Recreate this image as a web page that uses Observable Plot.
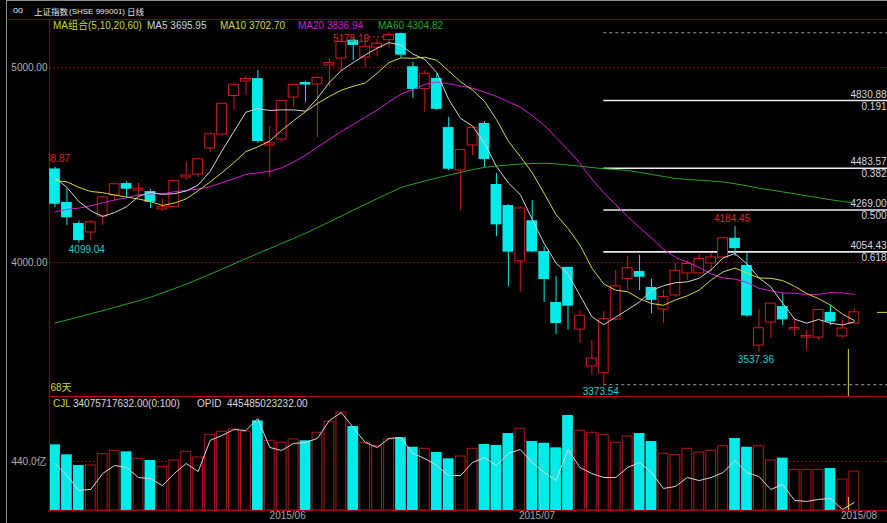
<!DOCTYPE html>
<html><head><meta charset="utf-8">
<script src="https://cdn.jsdelivr.net/npm/d3@7"></script>
<script src="https://cdn.jsdelivr.net/npm/@observablehq/plot@0.6"></script>
<style>
html,body{margin:0;padding:0;background:#000;overflow:hidden;}
#wrap{position:relative;width:887px;height:523px;background:#000;font-family:'Liberation Sans',Arial,'Noto Sans CJK SC',sans-serif;font-size:10px;}
.abs{position:absolute;white-space:pre;line-height:1;}
#price,#vol{position:absolute;left:0;}
#price{top:20px;} #vol{top:396px;}
.cjk{font-family:'Noto Sans CJK SC',sans-serif;}
</style></head><body>
<div id="wrap">
 <div id="price"></div><div id="vol"></div>
 <div class="abs" style="left:6px;top:0;width:1px;height:523px;background:#8c8c8c"></div>
 <div class="abs" style="left:6px;top:0;width:881px;height:1px;background:#8c8c8c"></div>
 <div class="abs" style="left:7px;top:19px;width:880px;height:1px;background:#7c0000"></div>
 <div id="hdr"></div>
</div>
<script>
// ---------- data ----------
const titleMain = "上证指数";
const titleCode = "(SHSE 999001)";
const titlePeriod = "日线";
const maGroupLabel = "MA组合(5,10,20,60)";
const maNames = ["MA5", "MA10", "MA20", "MA60"];
const maLast = ["3695.95", "3702.70", "3836.94", "4304.82"];
const volHeader = ["CJL", "34075717632.00(0:100)", "OPID", "445485023232.00"];
const daysLabel = ["68天"];

const openP = [4479.85,4308,4200,4154,4236,4344,4405,4369,4364,4272,4285,4436,4451,4585,4656,4854,4928,4943,4600,4631,4846,4923,4913,5010,5046,5140,5051,5102,5140,5174,5004,4890,4944,4692,4472,4600,4713,4400,4292,4006,4214,4056,3795,3975,3656,3467,3432,3707,3916,3954,3872,3759,3831,3944,3944,3995,4026,4124,3985,3574,3692,3774,3656,3615,3615,3744,3621,3687];
const highP = [4488.87,4379,4213,4215,4338,4404,4415,4405,4374,4323,4420,4515,4532,4664,4816,4914,4958,4986,4697,4830,4912,4930,4952,5046,5146,5147,5150,5143,5178.19,5176,5026,4985,4969,4744,4580,4692,4723,4456,4297,4287,4318,4080,3928,3975,3754,3600,3748,3959,4031,4036,3913,3856,3995,4010,4041,4046,4128,4184.45,4046,3759,3792,3841,3708,3651,3761,3779,3708,3764];
const lowP = [4282,4190,4099.04,4110,4190,4318,4333,4333,4277,4262,4280,4420,4436,4564,4650,4780,4856,4610,4436,4615,4795,4820,4641,4900,4980,5036,5000,5054,5097,5048,4841,4769,4780,4470,4264.77,4549,4487,4133,3875,3847,4050,3795,3631,3653,3585,3421.53,3373.54,3700,3856,3856,3738,3687,3821,3908,3944,3949,4020,4030,3720,3537.36,3610,3677,3621,3549,3600,3677,3610,3687];
const closeP = [4298.71,4229.27,4112.21,4205.92,4333.58,4401.22,4375.76,4378.31,4308.69,4283.49,4417.55,4446.29,4529.42,4657.60,4813.80,4910.90,4941.71,4620.27,4611.74,4828.74,4910.53,4909.98,4947.10,5023.10,5131.88,5113.53,5106.04,5121.59,5166.35,5062.99,4887.43,4967.90,4785.36,4478.36,4576.49,4690.15,4527.78,4192.87,4053.03,4277.22,4053.70,3912.77,3686.92,3775.91,3727.12,3507.19,3709.33,3877.80,3970.39,3924.49,3805.70,3823.18,3957.35,3992.11,4017.67,4026.04,4123.92,4070.91,3725.56,3663.00,3789.17,3705.77,3663.73,3622.91,3756.54,3694.57,3661.54,3744.20];

const ma5 = [4434.73,4385.34,4312.46,4265.31,4235.94,4256.44,4285.74,4338.96,4359.51,4349.49,4352.76,4366.87,4397.09,4466.87,4572.93,4671.60,4770.69,4788.86,4779.68,4782.67,4782.60,4776.25,4841.62,4923.89,4984.52,5025.12,5064.33,5099.23,5127.88,5114.10,5068.88,5041.25,4974.01,4836.41,4739.11,4699.65,4611.63,4493.13,4408.06,4348.21,4220.92,4097.92,3996.73,3941.30,3831.28,3721.98,3681.29,3719.47,3758.37,3797.84,3857.54,3880.31,3896.22,3900.57,3919.20,3963.27,4023.42,4046.13,3992.82,3921.89,3874.51,3790.88,3709.45,3688.92,3707.62,3688.70,3679.86,3695.95];
const ma10 = [4420.14,4413.70,4385.07,4364.22,4358.20,4345.59,4335.54,4325.71,4312.41,4292.72,4304.60,4326.30,4368.02,4413.19,4461.21,4512.18,4568.78,4592.97,4623.28,4677.80,4727.10,4773.47,4815.24,4851.79,4883.60,4903.86,4920.29,4970.42,5025.88,5049.31,5047.00,5052.79,5036.62,4982.14,4926.60,4884.27,4826.44,4733.57,4622.24,4543.66,4460.29,4354.77,4244.93,4174.68,4089.75,3971.45,3889.61,3858.10,3849.84,3814.56,3789.76,3780.80,3807.85,3829.47,3858.52,3910.41,3951.87,3971.18,3946.69,3920.54,3918.89,3907.15,3877.79,3840.87,3814.76,3781.61,3735.37,3702.70];
const ma20 = [4259.50,4272.90,4278.77,4291.19,4306.15,4320.13,4332.13,4346.84,4352.54,4352.35,4362.37,4370.00,4376.55,4388.70,4409.71,4428.88,4452.16,4459.34,4467.85,4485.26,4515.85,4549.89,4591.63,4632.49,4672.40,4708.02,4744.53,4781.70,4824.58,4863.56,4887.05,4913.13,4925.93,4916.97,4905.10,4894.06,4873.37,4852.00,4824.06,4796.48,4753.64,4703.78,4640.77,4578.41,4508.18,4427.86,4358.02,4295.83,4236.04,4179.11,4125.02,4067.79,4026.39,4002.08,3974.13,3940.93,3920.74,3914.64,3898.26,3867.55,3854.33,3843.98,3842.82,3835.17,3836.64,3846.01,3843.62,3836.94];
const ma60 = [3690,3705,3721,3737,3753,3770,3787,3804,3822,3844,3866,3889,3914,3940,3966,3993,4020,4046,4072,4098,4124,4150,4179,4208,4238,4268,4298,4327,4356,4384,4402,4418,4433,4448,4462,4476,4488,4495,4500,4505,4508,4509,4506,4500,4494,4487,4481,4477,4472,4462,4452,4441,4431,4426,4422,4418,4413,4404,4393,4381,4372,4362,4353,4342,4332,4322,4313,4305];

const volume = [590,500,404,404,506,536,527,464,449,392,449,527,476,680,707,727,707,805,626,608,638,626,698,797,880,754,608,577,638,653,568,554,521,464,485,554,593,584,691,734,620,604,563,853,716,698,680,608,665,691,620,509,497,554,521,536,577,647,568,577,449,470,365,365,365,377,278,350];
const volLine = [422,314,180,189,332,404,386,296,287,224,332,422,350,629,674,727,718,826,566,539,602,611,647,808,880,745,611,566,647,656,512,467,404,314,314,431,476,404,512,548,431,341,269,548,386,332,296,296,386,431,341,198,216,296,269,296,341,449,341,305,189,233,90,81,99,108,9,72];

const priceTicks = [4000, 5000];
const volTicks = [440];
const monthLabels = ["2015/06", "2015/07", "2015/08"];
const monthTickPos = [19.5, 40.4, 67.4];

const fibValues = [4830.88, 4483.57, 4269.00, 4054.43];
const fibRatios = ["0.191", "0.382", "0.500", "0.618"];
const fibRange = [5178.19, 3373.54];
const fibStart = 46;

const peakLabel = [{i: 28, v: 5178.19}];
const highLabels = [{i: 0, v: 4488.87}, {i: 57, v: 4184.45}];
const lowLabelA = [{i: 2, v: 4099.04}];
const lowLabels = [{i: 46, v: 3373.54}, {i: 59, v: 3537.36}];

const cursorIdx = 66.5, cursorTail = 68.94, cursorPrice = 3744.20, cursorTop = 3554, cursorVol = 117;

// ---------- styles ----------
const RED = "#d01c1c", VRED = "#b51616", CYAN = "#00eaea";
const C_MA5 = "#d4d4d4", C_MA10 = "#d6d640", C_MA20 = "#d21ed2", C_MA60 = "#22a822";
const GRID = "#8c0000", AXIS = "#900000", TXT = "#b0b0b0", YEL = "#d2d23c", LBL_RED = "#e02424", LBL_CYAN = "#22d2d2";

const xDom = [-0.461, 69.78];
const yDom = [3312.82, 5241.03];
const vDom = [0, 1023.7];
const font = "'Liberation Sans', Arial, 'Noto Sans CJK SC', sans-serif";

const candles = closeP.map((c, i) => ({i, open: openP[i], high: highP[i], low: lowP[i], close: c, up: c >= openP[i], vol: volume[i]}));
const ups = candles.filter(d => d.up), downs = candles.filter(d => !d.up);

const price = Plot.plot({
  width: 887, height: 376, marginLeft: 49, marginRight: 0, marginTop: 0, marginBottom: 0,
  style: {background: "transparent", color: TXT, fontSize: "10px", fontFamily: font},
  x: {domain: xDom, axis: null},
  y: {domain: yDom, axis: null},
  marks: [
    Plot.ruleY(priceTicks, {stroke: GRID, strokeDasharray: "2,2"}),
    Plot.text(priceTicks, {y: d => d, frameAnchor: "left", dx: -2, textAnchor: "end", text: d => d.toFixed(2), fill: TXT}),
    Plot.ruleX([xDom[0]], {stroke: AXIS}),
    Plot.ruleY(fibRange, {y: d => d, x1: fibStart, x2: xDom[1], stroke: "#9a9a9a", strokeDasharray: "3,3"}),
    Plot.ruleY(fibValues, {y: d => d, x1: fibStart, x2: xDom[1], stroke: "#ececec", strokeWidth: 1.6}),
    Plot.text(fibValues, {y: d => d, frameAnchor: "right", dx: -37, dy: -6, textAnchor: "start", text: d => d.toFixed(2), fill: "#d8d8d8"}),
    Plot.text(fibValues, {y: d => d, frameAnchor: "right", dx: -26, dy: 6, textAnchor: "start", text: (d, i) => fibRatios[i], fill: "#d8d8d8"}),
    Plot.ruleX(ups, {x: "i", y1: "low", y2: "high", stroke: RED}),
    Plot.ruleX(downs, {x: "i", y1: "low", y2: "high", stroke: CYAN}),
    Plot.rect(downs, {x1: d => d.i - 0.45, x2: d => d.i + 0.45, y1: "open", y2: "close", fill: CYAN}),
    Plot.rect(ups, {x1: d => d.i - 0.41, x2: d => d.i + 0.41, y1: "open", y2: "close", fill: "#000", stroke: RED}),
    Plot.line(ma60, {x: (d, i) => i, y: d => d, stroke: C_MA60, strokeWidth: 1}),
    Plot.line(ma20, {x: (d, i) => i, y: d => d, stroke: C_MA20, strokeWidth: 1}),
    Plot.line(ma10, {x: (d, i) => i, y: d => d, stroke: C_MA10, strokeWidth: 1}),
    Plot.line(ma5, {x: (d, i) => i, y: d => d, stroke: C_MA5, strokeWidth: 1}),
    Plot.text(highLabels, {x: "i", y: "v", dx: -3, dy: -8, text: d => d.v.toFixed(2), fill: LBL_RED, clip: true}),
    Plot.text(peakLabel, {x: "i", y: "v", dx: -20, dy: 6, textAnchor: "end", text: d => d.v.toFixed(2), fill: LBL_RED}),
    Plot.ruleY(peakLabel, {y: "v", x1: d => d.i - 1.62, x2: d => d.i - 0.4, dy: 4, stroke: LBL_RED, strokeDasharray: "2,2"}),
    Plot.text(lowLabelA, {x: "i", y: "v", dx: 8, dy: 7, text: d => d.v.toFixed(2), fill: LBL_CYAN}),
    Plot.text(lowLabels, {x: "i", y: "v", dx: -3, dy: 7, text: d => d.v.toFixed(2), fill: LBL_CYAN}),
    Plot.text(daysLabel, {frameAnchor: "bottom-left", dx: 1, dy: -6, textAnchor: "start", text: d => d, fill: YEL}),
    Plot.ruleX([cursorIdx], {y1: cursorTop, y2: yDom[0], stroke: YEL}),
    Plot.ruleY([cursorPrice], {x1: cursorTail, x2: xDom[1], stroke: YEL})
  ]
});
document.getElementById("price").appendChild(price);

const vol = Plot.plot({
  width: 887, height: 127, marginLeft: 49, marginRight: 0, marginTop: 0, marginBottom: 13,
  style: {background: "transparent", color: TXT, fontSize: "10px", fontFamily: font},
  x: {domain: xDom, axis: null},
  y: {domain: vDom, axis: null},
  marks: [
    Plot.ruleY(volTicks, {stroke: GRID, strokeDasharray: "2,2"}),
    Plot.text(volTicks, {y: d => d, frameAnchor: "left", dx: -3, textAnchor: "end", text: d => d.toFixed(1) + "亿", fill: TXT}),
    Plot.rect(downs, {x1: d => d.i - 0.45, x2: d => d.i + 0.45, y1: 0, y2: "vol", fill: CYAN}),
    Plot.rect(ups, {x1: d => d.i - 0.41, x2: d => d.i + 0.41, y1: 0, y2: "vol", fill: "#000", stroke: VRED}),
    Plot.line(volLine, {x: (d, i) => i, y: d => d, stroke: "#d8d8d8", strokeWidth: 1}),
    Plot.ruleX([cursorIdx], {y1: 0, y2: cursorVol, stroke: YEL}),
    Plot.ruleY([vDom[1]], {stroke: "#c00000"}),
    Plot.ruleY([0], {stroke: "#a00000"}),
    Plot.ruleX([xDom[0]], {y1: vDom[0], y2: vDom[1], stroke: AXIS}),
    Plot.text(monthTickPos, {x: d => d, frameAnchor: "bottom", dy: 8, text: (d, i) => monthLabels[i], fill: "#a8a8a8"})
  ]
});
document.getElementById("vol").appendChild(vol);

// ---------- header texts ----------
const hdr = document.getElementById("hdr");
function addText(txt, left, top, color, size, cls) {
  const s = document.createElement("div");
  s.className = "abs" + (cls ? " " + cls : "");
  s.textContent = txt;
  s.style.left = left + "px"; s.style.top = top + "px"; s.style.color = color;
  if (size) s.style.fontSize = size + "px";
  hdr.appendChild(s);
}
addText("oo", 13, 6, "#e0e0e0", 9);
addText(titleMain, 34, 7, "#e8e8e8", 8.5, "cjk");
addText(titleCode, 69, 8, "#e8e8e8", 8);
addText(titlePeriod, 127, 7, "#e8e8e8", 8.5, "cjk");
addText(maGroupLabel, 53, 21, YEL, 10);
const maColors = [C_MA5, C_MA10, C_MA20, C_MA60];
const maLefts = [147, 220, 298, 378];
maNames.forEach((n, k) => addText(n + " " + maLast[k], maLefts[k], 21, maColors[k], 10));
const vhLefts = [53, 73, 197, 227];
const vhColors = [YEL, "#d8d8d8", "#d8d8d8", "#d8d8d8"];
volHeader.forEach((t, k) => addText(t, vhLefts[k], 399, vhColors[k], 10));
</script>
</body></html>
